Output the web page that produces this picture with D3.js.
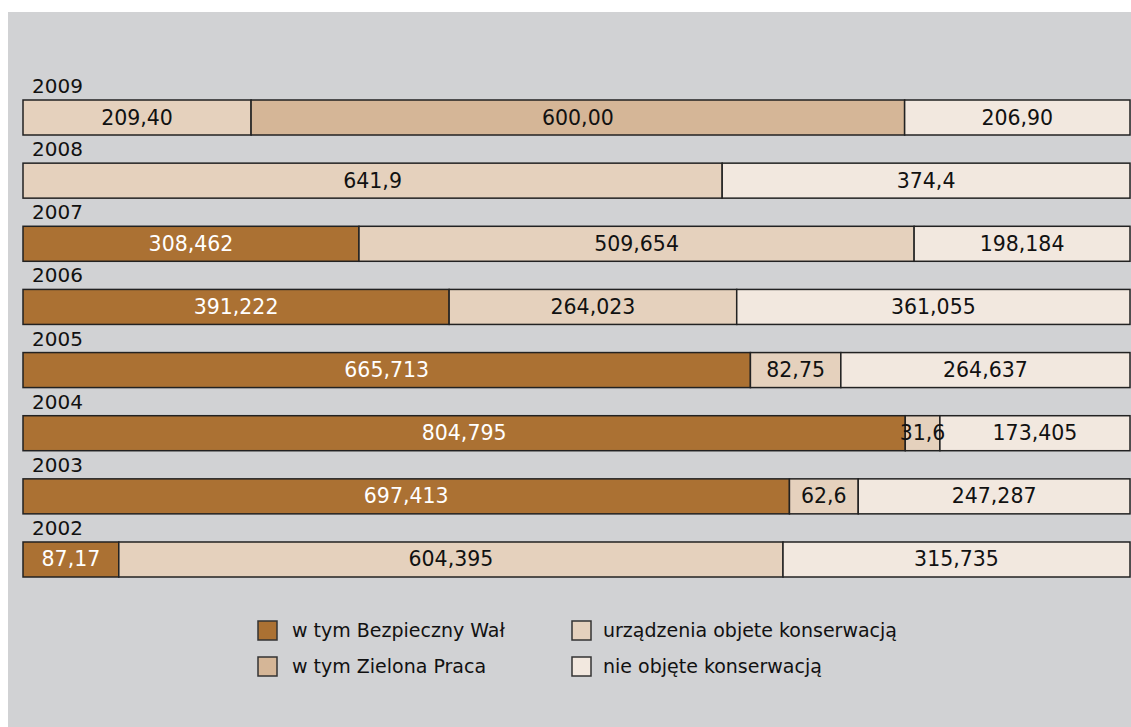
<!DOCTYPE html>
<html>
<head>
<meta charset="utf-8">
<script src="https://cdn.jsdelivr.net/npm/d3@7"></script>
<style>
  html, body { margin: 0; padding: 0; background: #ffffff; }
  svg { display: block; font-family: "DejaVu Sans", sans-serif; }
  .bg { fill: #d1d2d4; }
  .seg { stroke: #222222; stroke-width: 1.5; }
  .year { font-size: 20px; fill: #111111; }
  .val { font-size: 20.5px; text-anchor: middle; }
  .legend text { font-size: 19px; fill: #111111; }
</style>
</head>
<body>
<script>
// values as written in the picture (Polish decimal comma)
const years = ["2009", "2008", "2007", "2006", "2005", "2004", "2003", "2002"];
const bezpiecznyWal = ["", "", "308,462", "391,222", "665,713", "804,795", "697,413", "87,17"];
const urzadzenia = ["209,40", "641,9", "509,654", "264,023", "82,75", "31,6", "62,6", "604,395"];
const zielonaPraca = ["600,00", "", "", "", "", "", "", ""];
const nieObjete = ["206,90", "374,4", "198,184", "361,055", "264,637", "173,405", "247,287", "315,735"];

const seriesNames = ["w tym Bezpieczny Wał", "urządzenia objete konserwacją", "w tym Zielona Praca", "nie objęte konserwacją"];
const seriesColors = ["#ab7133", "#e5d1bd", "#d5b697", "#f2e8df"];
const seriesText = ["#ffffff", "#111111", "#111111", "#111111"];

let WIDTH = 1131,
    HEIGHT = 727;

let toNum = (s) => s === "" ? 0 : +s.replace(",", ".");

let rows = years.map((y, i) => {
  return {
    year: y,
    labels: [bezpiecznyWal[i], urzadzenia[i], zielonaPraca[i], nieObjete[i]],
    s0: toNum(bezpiecznyWal[i]),
    s1: toNum(urzadzenia[i]),
    s2: toNum(zielonaPraca[i]),
    s3: toNum(nieObjete[i])
  };
});

let svg = d3.select("body").append("svg")
  .attr("width", WIDTH)
  .attr("height", HEIGHT);

svg.append("rect")
  .attr("class", "bg")
  .attr("x", 8)
  .attr("y", 12)
  .attr("width", WIDTH - 8)
  .attr("height", HEIGHT - 12);

let x = d3.scaleLinear()
  .domain([0, 1])
  .range([23, 1130]);

let y = d3.scaleBand()
  .domain(years)
  .range([100, 577])
  .paddingInner(0.4457)
  .paddingOuter(0);

let stack = d3.stack()
  .keys(["s0", "s1", "s2", "s3"])
  .offset(d3.stackOffsetExpand);

let stacked = stack(rows);

// year labels above each bar
svg.selectAll(".year")
  .data(years)
.enter().append("text")
  .attr("class", "year")
  .attr("x", 32)
  .attr("y", d => y(d) - 7)
  .text(d => d);

let layers = svg.selectAll(".layer")
  .data(stacked)
.enter().append("g")
  .attr("class", "layer");

layers.selectAll(".seg")
  .data(d => d.filter(p => p[1] - p[0] > 0))
.enter().append("rect")
  .attr("class", "seg")
  .attr("x", d => x(d[0]))
  .attr("y", d => y(d.data.year))
  .attr("width", d => x(d[1]) - x(d[0]))
  .attr("height", y.bandwidth())
  .style("fill", function(d) {
    return seriesColors[d3.select(this.parentNode).datum().index];
  });

// labels go on top of every segment, so narrow ones can spill over
let labelGroup = svg.append("g").attr("class", "labels");

stacked.forEach(layer => {
  let k = layer.index;
  labelGroup.selectAll(".val-" + k)
    .data(layer.filter(p => p[1] - p[0] > 0))
  .enter().append("text")
    .attr("class", "val val-" + k)
    .attr("x", d => (x(d[0]) + x(d[1])) / 2)
    .attr("y", d => y(d.data.year) + y.bandwidth() / 2 + 7)
    .style("fill", seriesText[k])
    .text(d => d.data.labels[k]);
});

// legend, two columns
let legendPos = [
  {col: 0, row: 0}, // Bezpieczny Wał
  {col: 1, row: 0}, // urządzenia
  {col: 0, row: 1}, // Zielona Praca
  {col: 1, row: 1}  // nie objęte
];

let legend = svg.append("g").attr("class", "legend");

let item = legend.selectAll(".item")
  .data(seriesNames)
.enter().append("g")
  .attr("class", "item")
  .attr("transform", (d, i) => {
    return "translate(" + (258 + legendPos[i].col * 314) + ", " +
            (621 + legendPos[i].row * 36) + ")";
  });

item.append("rect")
  .attr("width", 19)
  .attr("height", 19)
  .style("fill", (d, i) => seriesColors[i])
  .style("stroke", "#333333")
  .style("stroke-width", 1.5);

item.append("text")
  .attr("x", (d, i) => legendPos[i].col === 0 ? 34 : 31)
  .attr("y", 16)
  .text(d => d);
</script>
</body>
</html>
